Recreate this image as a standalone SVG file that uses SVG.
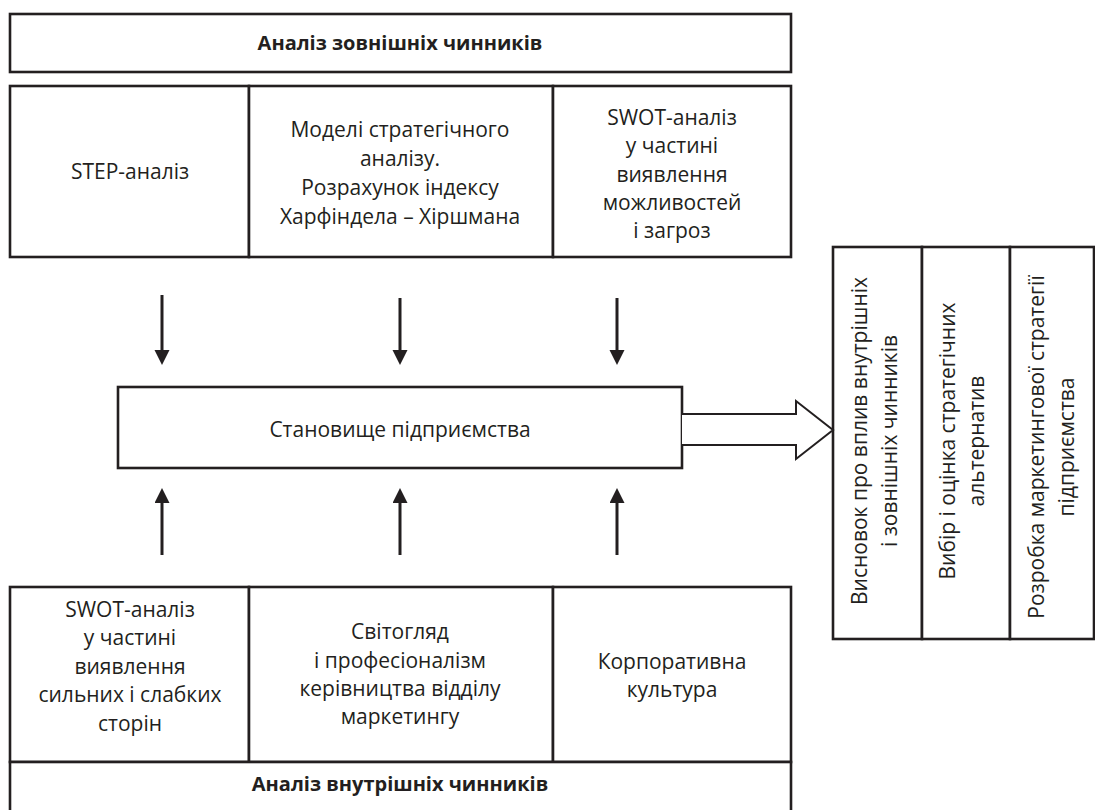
<svg xmlns="http://www.w3.org/2000/svg" width="1095" height="810" viewBox="0 0 1095 810">
<style>
.box{fill:#fff;stroke:#231f20;stroke-width:2.6}
.t{font-family:"Open Sans","Noto Sans",sans-serif;font-size:21px;fill:#231f20;text-anchor:middle}
.b{font-weight:bold;font-size:20px}
.ar{stroke:#231f20;stroke-width:3;fill:none}
</style>
<defs>
<marker id="ah" markerUnits="userSpaceOnUse" markerWidth="16" markerHeight="16" refX="1" refY="7.5" orient="auto">
<path d="M0,0 L15,7.5 L0,15 z" fill="#231f20"/>
</marker>
</defs>
<rect width="1095" height="810" fill="#fff"/>

<g id="external-header">
<rect class="box" x="10" y="14" width="781" height="58"/>
<text class="t b" x="400" y="50">Аналіз зовнішніх чинників</text>
</g>

<g id="step">
<rect class="box" x="10" y="86" width="239" height="171"/>
<text class="t" x="130" y="179">STEP-аналіз</text>
</g>

<g id="models">
<rect class="box" x="249" y="86" width="304" height="171"/>
<text class="t" x="400" y="137">Моделі стратегічного</text>
<text class="t" x="400" y="166">аналізу.</text>
<text class="t" x="400" y="195">Розрахунок індексу</text>
<text class="t" x="400" y="224">Харфіндела – Хіршмана</text>
</g>

<g id="swot-ext">
<rect class="box" x="553" y="86" width="238" height="171"/>
<text class="t" x="672" y="125">SWOT-аналіз</text>
<text class="t" x="672" y="153">у частині</text>
<text class="t" x="672" y="182">виявлення</text>
<text class="t" x="672" y="210">можливостей</text>
<text class="t" x="672" y="238">і загроз</text>
</g>

<g id="position">
<rect class="box" x="118" y="387" width="564" height="81"/>
<text class="t" x="400" y="437">Становище підприємства</text>
</g>

<g id="right-panel">
<rect class="box" x="833" y="247" width="89" height="392"/>
<rect class="box" x="922" y="247" width="88" height="392"/>
<rect class="box" x="1010" y="247" width="84" height="392"/>
<text class="t" transform="translate(867,441) rotate(-90)">Висновок про вплив внутрішніх</text>
<text class="t" transform="translate(897,441) rotate(-90)">і зовнішніх чинників</text>
<text class="t" transform="translate(955,441) rotate(-90)">Вибір і оцінка стратегічних</text>
<text class="t" transform="translate(984,441) rotate(-90)">альтернатив</text>
<text class="t" transform="translate(1044,447) rotate(-90)">Розробка маркетингової стратегії</text>
<text class="t" transform="translate(1074,447) rotate(-90)">підприємства</text>
</g>

<g id="swot-int">
<rect class="box" x="10" y="587" width="239" height="175"/>
<text class="t" x="130" y="617">SWOT-аналіз</text>
<text class="t" x="130" y="645">у частині</text>
<text class="t" x="130" y="674">виявлення</text>
<text class="t" x="130" y="702">сильних і слабких</text>
<text class="t" x="130" y="731">сторін</text>
</g>

<g id="worldview">
<rect class="box" x="249" y="587" width="304" height="175"/>
<text class="t" x="400" y="639">Світогляд</text>
<text class="t" x="400" y="668">і професіоналізм</text>
<text class="t" x="400" y="696">керівництва відділу</text>
<text class="t" x="400" y="724">маркетингу</text>
</g>

<g id="culture">
<rect class="box" x="553" y="587" width="238" height="175"/>
<text class="t" x="672" y="669">Корпоративна</text>
<text class="t" x="672" y="697">культура</text>
</g>

<g id="internal-header">
<rect class="box" x="10" y="762" width="781" height="60"/>
<text class="t b" x="400" y="791">Аналіз внутрішніх чинників</text>
</g>

<g id="connectors">
<line class="ar" x1="162" y1="295" x2="162" y2="351" marker-end="url(#ah)"/>
<line class="ar" x1="400" y1="298" x2="400" y2="351" marker-end="url(#ah)"/>
<line class="ar" x1="617" y1="298" x2="617" y2="351" marker-end="url(#ah)"/>
<line class="ar" x1="162" y1="555" x2="162" y2="502" marker-end="url(#ah)"/>
<line class="ar" x1="400" y1="555" x2="400" y2="502" marker-end="url(#ah)"/>
<line class="ar" x1="617" y1="555" x2="617" y2="502" marker-end="url(#ah)"/>
<path d="M682,414 L796,414 L796,401 L833,430 L796,459 L796,445 L682,445" fill="#fff" stroke="#231f20" stroke-width="2"/>
</g>
</svg>
